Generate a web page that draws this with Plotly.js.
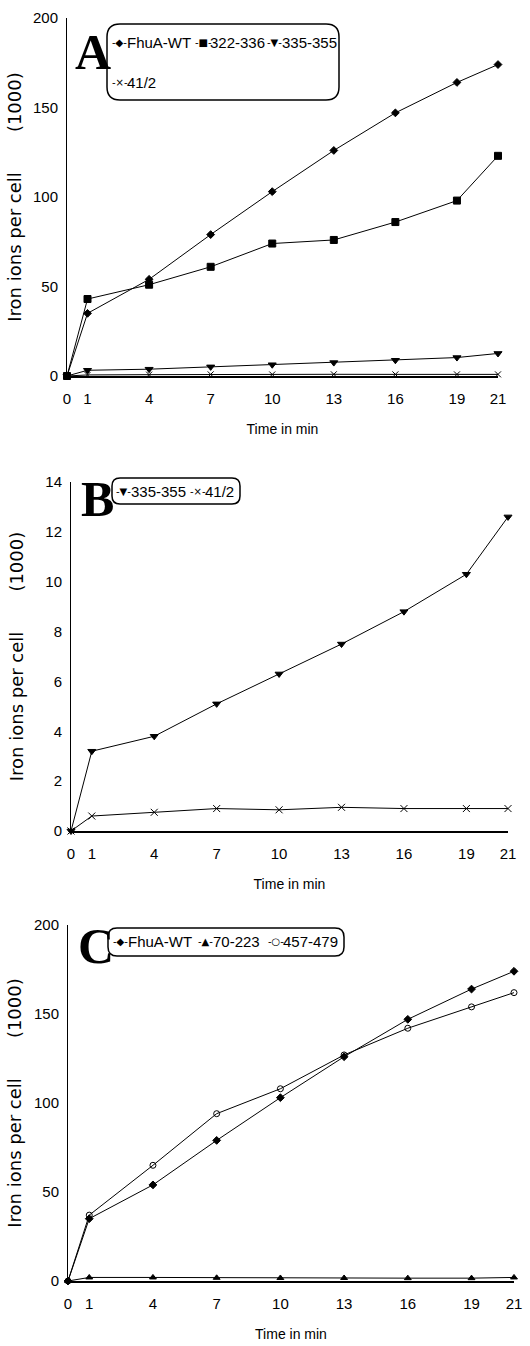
<!DOCTYPE html>
<html>
<head>
<meta charset="utf-8">
<script src="https://cdn.plot.ly/plotly-3.0.1.min.js"></script>
<style>html,body{margin:0;padding:0;background:#fff}#chart{width:530px;height:1346px}</style>
</head>
<body>
<div id="chart"></div>
<script>
// ---- data ----
const timeMin = [0, 1, 4, 7, 10, 13, 16, 19, 21];
const timeTicks = [0, 1, 4, 7, 10, 13, 16, 19, 21];
const fhuaWT  = [0, 35, 54, 79, 103, 126, 147, 164, 174];
const mut322_336 = [0, 43, 51, 61, 74, 76, 86, 98, 123];
const mut335_355 = [0, 3.2, 3.8, 5.1, 6.3, 7.5, 8.8, 10.3, 12.6];
const mut41_2 = [0, 0.6, 0.75, 0.9, 0.85, 0.95, 0.9, 0.9, 0.9];
const mut70_223 = [0, 2, 2, 1.8, 1.7, 1.7, 1.6, 1.6, 2];
const mut457_479 = [0, 37, 65, 94, 108, 127, 142, 154, 162];
const ticksAC = [0, 50, 100, 150, 200];
const ticksB = [0, 2, 4, 6, 8, 10, 12, 14];
const names = {wt:'FhuA-WT', m322:'322-336', m335:'335-355', m41:'41/2', m70:'70-223', m457:'457-479'};
const xTitle = 'Time in min';
const yTitle = 'Iron ions per cell';
const yUnit = '(1000)';

// ---- helpers ----
const W = 530, H = 1346;
const px = x => x / W;
const py = y => 1 - y / H;
const SANS = 'Liberation Sans, Arial, sans-serif';

function tr(x, y, name, sym, size, xa, ya) {
  return {x: x, y: y, name: name, type: 'scatter', mode: 'lines+markers', xaxis: xa, yaxis: ya,
    cliponaxis: false,
    line: {color: '#000', width: 1},
    marker: {symbol: sym, size: size, color: '#000', line: {color: '#000', width: 1}}};
}
const traces = [
  tr(timeMin, fhuaWT, names.wt, 'diamond', 6, 'x', 'y'),
  tr(timeMin, mut322_336, names.m322, 'square', 7, 'x', 'y'),
  tr(timeMin, mut335_355, names.m335, 'triangle-down', 7, 'x', 'y'),
  tr(timeMin, mut41_2, names.m41, 'x-thin-open', 6, 'x', 'y'),
  tr(timeMin, mut335_355, names.m335, 'triangle-down', 7, 'x2', 'y2'),
  tr(timeMin, mut41_2, names.m41, 'x-thin-open', 7, 'x2', 'y2'),
  tr(timeMin, fhuaWT, names.wt, 'diamond', 6, 'x3', 'y3'),
  tr(timeMin, mut70_223, names.m70, 'triangle-up', 6, 'x3', 'y3'),
  tr(timeMin, mut457_479, names.m457, 'circle-open', 6, 'x3', 'y3')
];

function xax(x0, x1, anchor) {
  return {domain: [px(x0), px(x1)], range: [0, 21], anchor: anchor, tickvals: timeTicks,
    showline: true, linecolor: '#000', linewidth: 2, showgrid: false, zeroline: false, ticks: '',
    ticklabelstandoff: 8, tickfont: {family: SANS, size: 15, color: '#000'},
    title: {text: xTitle, font: {family: SANS, size: 14, color: '#000'}, standoff: 18}};
}
function yax(yb, yt, anchor, range, tv, standoff) {
  return {domain: [py(yb), py(yt)], range: range, anchor: anchor, tickvals: tv,
    showline: true, linecolor: '#000', linewidth: 1, showgrid: false, zeroline: false, ticks: '',
    ticklabelstandoff: 5, tickfont: {family: SANS, size: 15, color: '#000'},
    title: {text: yTitle + '\u00a0\u00a0\u00a0\u00a0\u00a0\u00a0\u00a0' + yUnit,
      font: {family: 'DejaVu Sans, sans-serif', size: 18, color: '#000'}, standoff: standoff}};
}

function roundRect(x0, y0, x1, y1, r) {
  const P = (x, y) => px(x) + ',' + py(y);
  return 'M' + P(x0 + r, y0) + ' L' + P(x1 - r, y0) + ' Q' + P(x1, y0) + ' ' + P(x1, y0 + r) +
    ' L' + P(x1, y1 - r) + ' Q' + P(x1, y1) + ' ' + P(x1 - r, y1) +
    ' L' + P(x0 + r, y1) + ' Q' + P(x0, y1) + ' ' + P(x0, y1 - r) +
    ' L' + P(x0, y0 + r) + ' Q' + P(x0, y0) + ' ' + P(x0 + r, y0) + ' Z';
}
const boxStyle = {type: 'path', xref: 'paper', yref: 'paper', line: {color: '#000', width: 1.5}};
const shapes = [
  Object.assign({path: roundRect(107, 24, 339, 100, 13)}, boxStyle),
  Object.assign({path: roundRect(112, 478, 240, 504, 8)}, boxStyle),
  Object.assign({path: roundRect(108, 928, 344, 956, 9)}, boxStyle)
];

function legItem(x, y, sym, name) {
  return [
    {xref: 'paper', yref: 'paper', x: px(x), y: py(y), xanchor: 'left', yanchor: 'middle',
      showarrow: false, font: {family: 'DejaVu Sans, sans-serif', size: 10, color: '#000'}, text: sym},
    {xref: 'paper', yref: 'paper', x: px(x + 15), y: py(y), xanchor: 'left', yanchor: 'middle',
      showarrow: false, font: {family: SANS, size: 15, color: '#000'}, text: name}
  ];
}
function letter(x, y, t) {
  return {xref: 'paper', yref: 'paper', x: px(x), y: py(y), xanchor: 'center', yanchor: 'middle',
    showarrow: false, font: {family: 'Liberation Serif, serif', size: 50, color: '#000'}, text: '<b>' + t + '</b>'};
}
const annotations = [
  letter(93, 52, 'A'), letter(97, 499, 'B'), letter(96, 946, 'C')
].concat(
  legItem(110, 42, '-◆-', names.wt), legItem(193, 42, '-■-', names.m322), legItem(265, 42, '-▼-', names.m335),
  legItem(110, 82, '-×-', names.m41),
  legItem(114, 491, '-▼-', names.m335), legItem(188, 491, '-×-', names.m41),
  legItem(111, 942, '-◆-', names.wt), legItem(196, 942, '-▲-', names.m70), legItem(266, 942, '-○-', names.m457)
);

const layout = {
  width: W, height: H, margin: {l: 0, r: 0, t: 0, b: 0},
  paper_bgcolor: '#fff', plot_bgcolor: '#fff', showlegend: false,
  xaxis: xax(67, 498, 'y'),
  yaxis: yax(376, 18, 'x', [0, 200], ticksAC, 6),
  xaxis2: xax(71, 508, 'y2'),
  yaxis2: yax(831, 482, 'x2', [0, 14], ticksB, 17),
  xaxis3: xax(68, 514, 'y3'),
  yaxis3: yax(1281, 925, 'x3', [0, 200], ticksAC, 7),
  shapes: shapes, annotations: annotations
};
Plotly.newPlot('chart', traces, layout, {displayModeBar: false, staticPlot: true});
</script>
</body>
</html>
